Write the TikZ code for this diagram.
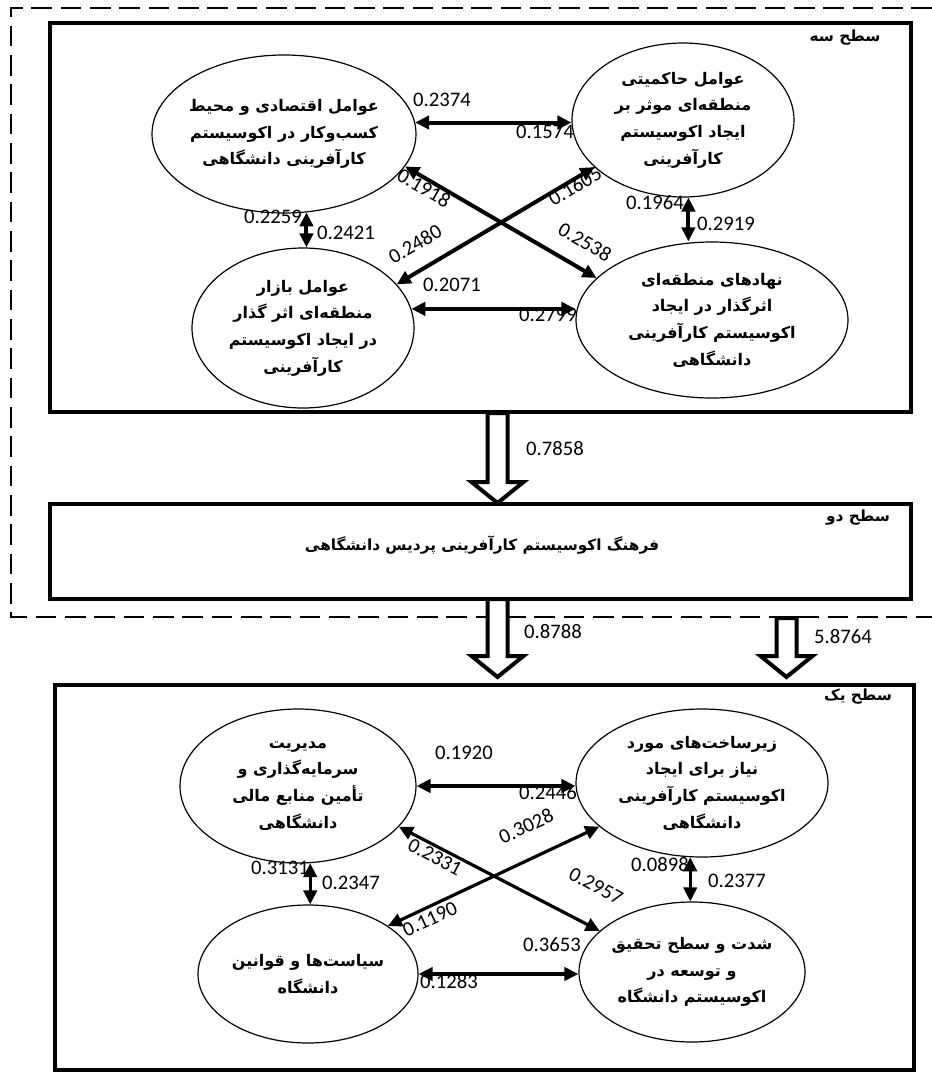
\documentclass[tikz,border=0pt]{standalone}
\usepackage{fontspec}
\usetikzlibrary{shapes.geometric,arrows.meta,calc}
\newfontfamily\farsi[Script=Arabic]{DejaVu Sans}
\newfontfamily\numfont{Carlito}
\TeXXeTstate=1
\begin{document}
\begin{tikzpicture}[x=0.75pt,y=-0.75pt,
  ell/.style={ellipse, draw, line width=0.9pt, inner sep=0pt},
  ftxt/.style={align=center, font=\farsi\bfseries\fontsize{12}{20}\selectfont, inner sep=0pt},
  num/.style={font=\numfont\fontsize{15.5}{18}\selectfont, inner sep=0pt},
  lvl/.style={font=\farsi\bfseries\fontsize{11.5}{13}\selectfont, inner sep=0pt},
  levelbox/.style={draw, line width=3.4pt, inner sep=0pt},
  dbl/.style={{Triangle[length=10.5pt,width=10pt]}-{Triangle[length=10.5pt,width=10pt]}, line width=3pt},
  dbltwo/.style={dbl, line width=2.4pt},
  block/.style={draw, line width=3pt, fill=white, line join=miter},
  outline/.style={line width=1.5pt, dash pattern=on 15.5pt off 6.5pt},
]
\useasboundingbox (0,0) rectangle (932,1072);

% dashed outline
\draw[outline] (932,8) -- (11,8) -- (11,617) -- (932,617);

% level boxes
\node[levelbox, minimum width=645.75pt, minimum height=291.75pt] (box3) at (480.5,217.5) {};
\node[levelbox, minimum width=645.75pt, minimum height=71.25pt] (box2) at (480.5,551.5) {};
\node[levelbox, minimum width=644.25pt, minimum height=288.75pt] (box1) at (484.5,877.5) {};

\node[lvl] (t3) at (845,38) {\beginR سطح سه\endR};
\node[lvl] (t2) at (858,518) {\beginR سطح دو\endR};
\node[lvl] (t1) at (858,697) {\beginR سطح یک\endR};
\node[font=\farsi\bfseries\fontsize{11.5}{15}\selectfont, inner sep=0pt] (c2) at (482,545) {\beginR فرهنگ اکوسیستم کارآفرینی پردیس دانشگاهی\endR};

% level three ellipses
\node[ell, minimum width=198pt, minimum height=118.5pt,
  label={[ftxt]center:\beginR عوامل اقتصادی و محیط\endR\\\beginR کسب‌وکار  در اکوسیستم\endR\\\beginR کارآفرینی  دانشگاهی\endR}] (E1) at (284,134) {};
\node[ell, minimum width=166.5pt, minimum height=115.5pt,
  label={[ftxt]center:\beginR عوامل حاکمیتی\endR\\\beginR منطقه‌ای موثر بر\endR\\\beginR ایجاد اکوسیستم\endR\\\beginR کارآفرینی\endR}] (E2) at (683,120) {};
\node[ell, minimum width=166.5pt, minimum height=120pt,
  label={[ftxt]center:\beginR عوامل بازار\endR\\\beginR منطقه‌ای اثر گذار\endR\\\beginR در ایجاد اکوسیستم\endR\\\beginR کارآفرینی\endR}] (E3) at (303,328) {};
\node[ell, minimum width=204pt, minimum height=117pt,
  label={[ftxt]center:\beginR نهادهای منطقه‌ای\endR\\\beginR اثرگذار در ایجاد\endR\\\beginR اکوسیستم کارآفرینی\endR\\\beginR دانشگاهی\endR}] (E4) at (712,320) {};

% level one ellipses
\node[ell, minimum width=177pt, minimum height=115.5pt,
  label={[ftxt]center:\beginR مدیریت\endR\\\beginR سرمایه‌گذاری و\endR\\\beginR تأمین منابع مالی\endR\\\beginR دانشگاهی\endR}] (F1) at (298,786) {};
\node[ell, minimum width=189pt, minimum height=111pt,
  label={[ftxt]center:\beginR زیرساخت‌های مورد\endR\\\beginR نیاز برای ایجاد\endR\\\beginR اکوسیستم کارآفرینی\endR\\\beginR دانشگاهی\endR}] (F2) at (702,783) {};
\node[ell, minimum width=165pt, minimum height=103.5pt,
  label={[ftxt]center:\beginR سیاست‌ها و قوانین\endR\\\beginR دانشگاه\endR}] (F3) at (308,974) {};
\node[ell, minimum width=169.5pt, minimum height=105pt,
  label={[ftxt]center:\beginR شدت و سطح تحقیق\endR\\\beginR و توسعه در\endR\\\beginR اکوسیستم دانشگاه\endR}] (F4) at (692,972) {};

% level three connectors
\draw[dbl] (E1.5) -- (E1.5 -| E2.west);
\draw[dbl] (E3.10) -- (E3.10 -| E4.west);
\draw[dbl] (E1.-74) -- (E1.-74 |- E3.north);
\draw[dbl] (E2.-86) -- (E2.-86 |- E4.north);
\draw[dbl] (E1.-15) -- (E4.160);
\draw[dbl] (E3.25) -- (E2.208);

% level one connectors
\draw[dbltwo] (F1.east) -- (F1.east -| F2.west);
\draw[dbltwo] (F3.east) -- (F3.east -| F4.west);
\draw[dbltwo] (F1.-81) -- (F1.-81 |- F3.north);
\draw[dbltwo] (F2.-99) -- (F2.-99 |- F4.north);
\draw[dbltwo] (F1.-22) -- (F4.156);
\draw[dbltwo] (F3.31) -- (F2.203);

% block arrows between levels
\coordinate (a1) at (497.5,413);
\coordinate (a2) at (497.5,599);
\coordinate (a3) at (786.5,618);
\draw[block] (a1) ++(-10,0) -- ++(0,69) -- ++(-16,0) -- ++(26,21) -- ++(26,-21) -- ++(-16,0) -- ++(0,-69) -- cycle;
\draw[block] (a2) ++(-10,0) -- ++(0,57) -- ++(-16,0) -- ++(26,21) -- ++(26,-21) -- ++(-16,0) -- ++(0,-57) -- cycle;
\draw[block] (a3) ++(-10,0) -- ++(0,38) -- ++(-16,0) -- ++(26,21) -- ++(26,-21) -- ++(-16,0) -- ++(0,-38) -- cycle;

% coefficient labels, level three
\node[num] (n1) at (442,100) {0.2374};
\node[num] (n2) at (545,132) {0.1574};
\node[num] (n3) at (452,285) {0.2071};
\node[num] (n4) at (548,315) {0.2799};
\node[num] (n5) at (273,217) {0.2259};
\node[num] (n6) at (346,233) {0.2421};
\node[num] (n7) at (655,203) {0.1964};
\node[num] (n8) at (726,224) {0.2919};
\node[num, rotate=-30] (n9) at (424,188) {0.1918};
\node[num, rotate=-30] (n10) at (585,242) {0.2538};
\node[num, rotate=30] (n11) at (415,244) {0.2480};
\node[num, rotate=30] (n12) at (575,186) {0.1605};

% between levels
\node[num] (m1) at (555,449) {0.7858};
\node[num] (m2) at (553,632) {0.8788};
\node[num] (m3) at (843,637) {5.8764};

% level one
\node[num] (k1) at (464,753) {0.1920};
\node[num] (k2) at (548,793) {0.2446};
\node[num] (k3) at (552,945) {0.3653};
\node[num] (k4) at (449,982) {0.1283};
\node[num] (k5) at (280,868) {0.3131};
\node[num] (k6) at (351,883) {0.2347};
\node[num] (k7) at (660,865) {0.0898};
\node[num] (k8) at (737,881) {0.2377};
\node[num, rotate=-28] (k9) at (435,857) {0.2331};
\node[num, rotate=-28] (k10) at (596,886) {0.2957};
\node[num, rotate=25] (k11) at (430,919) {0.1190};
\node[num, rotate=25] (k12) at (526,826) {0.3028};
\end{tikzpicture}
\end{document}
